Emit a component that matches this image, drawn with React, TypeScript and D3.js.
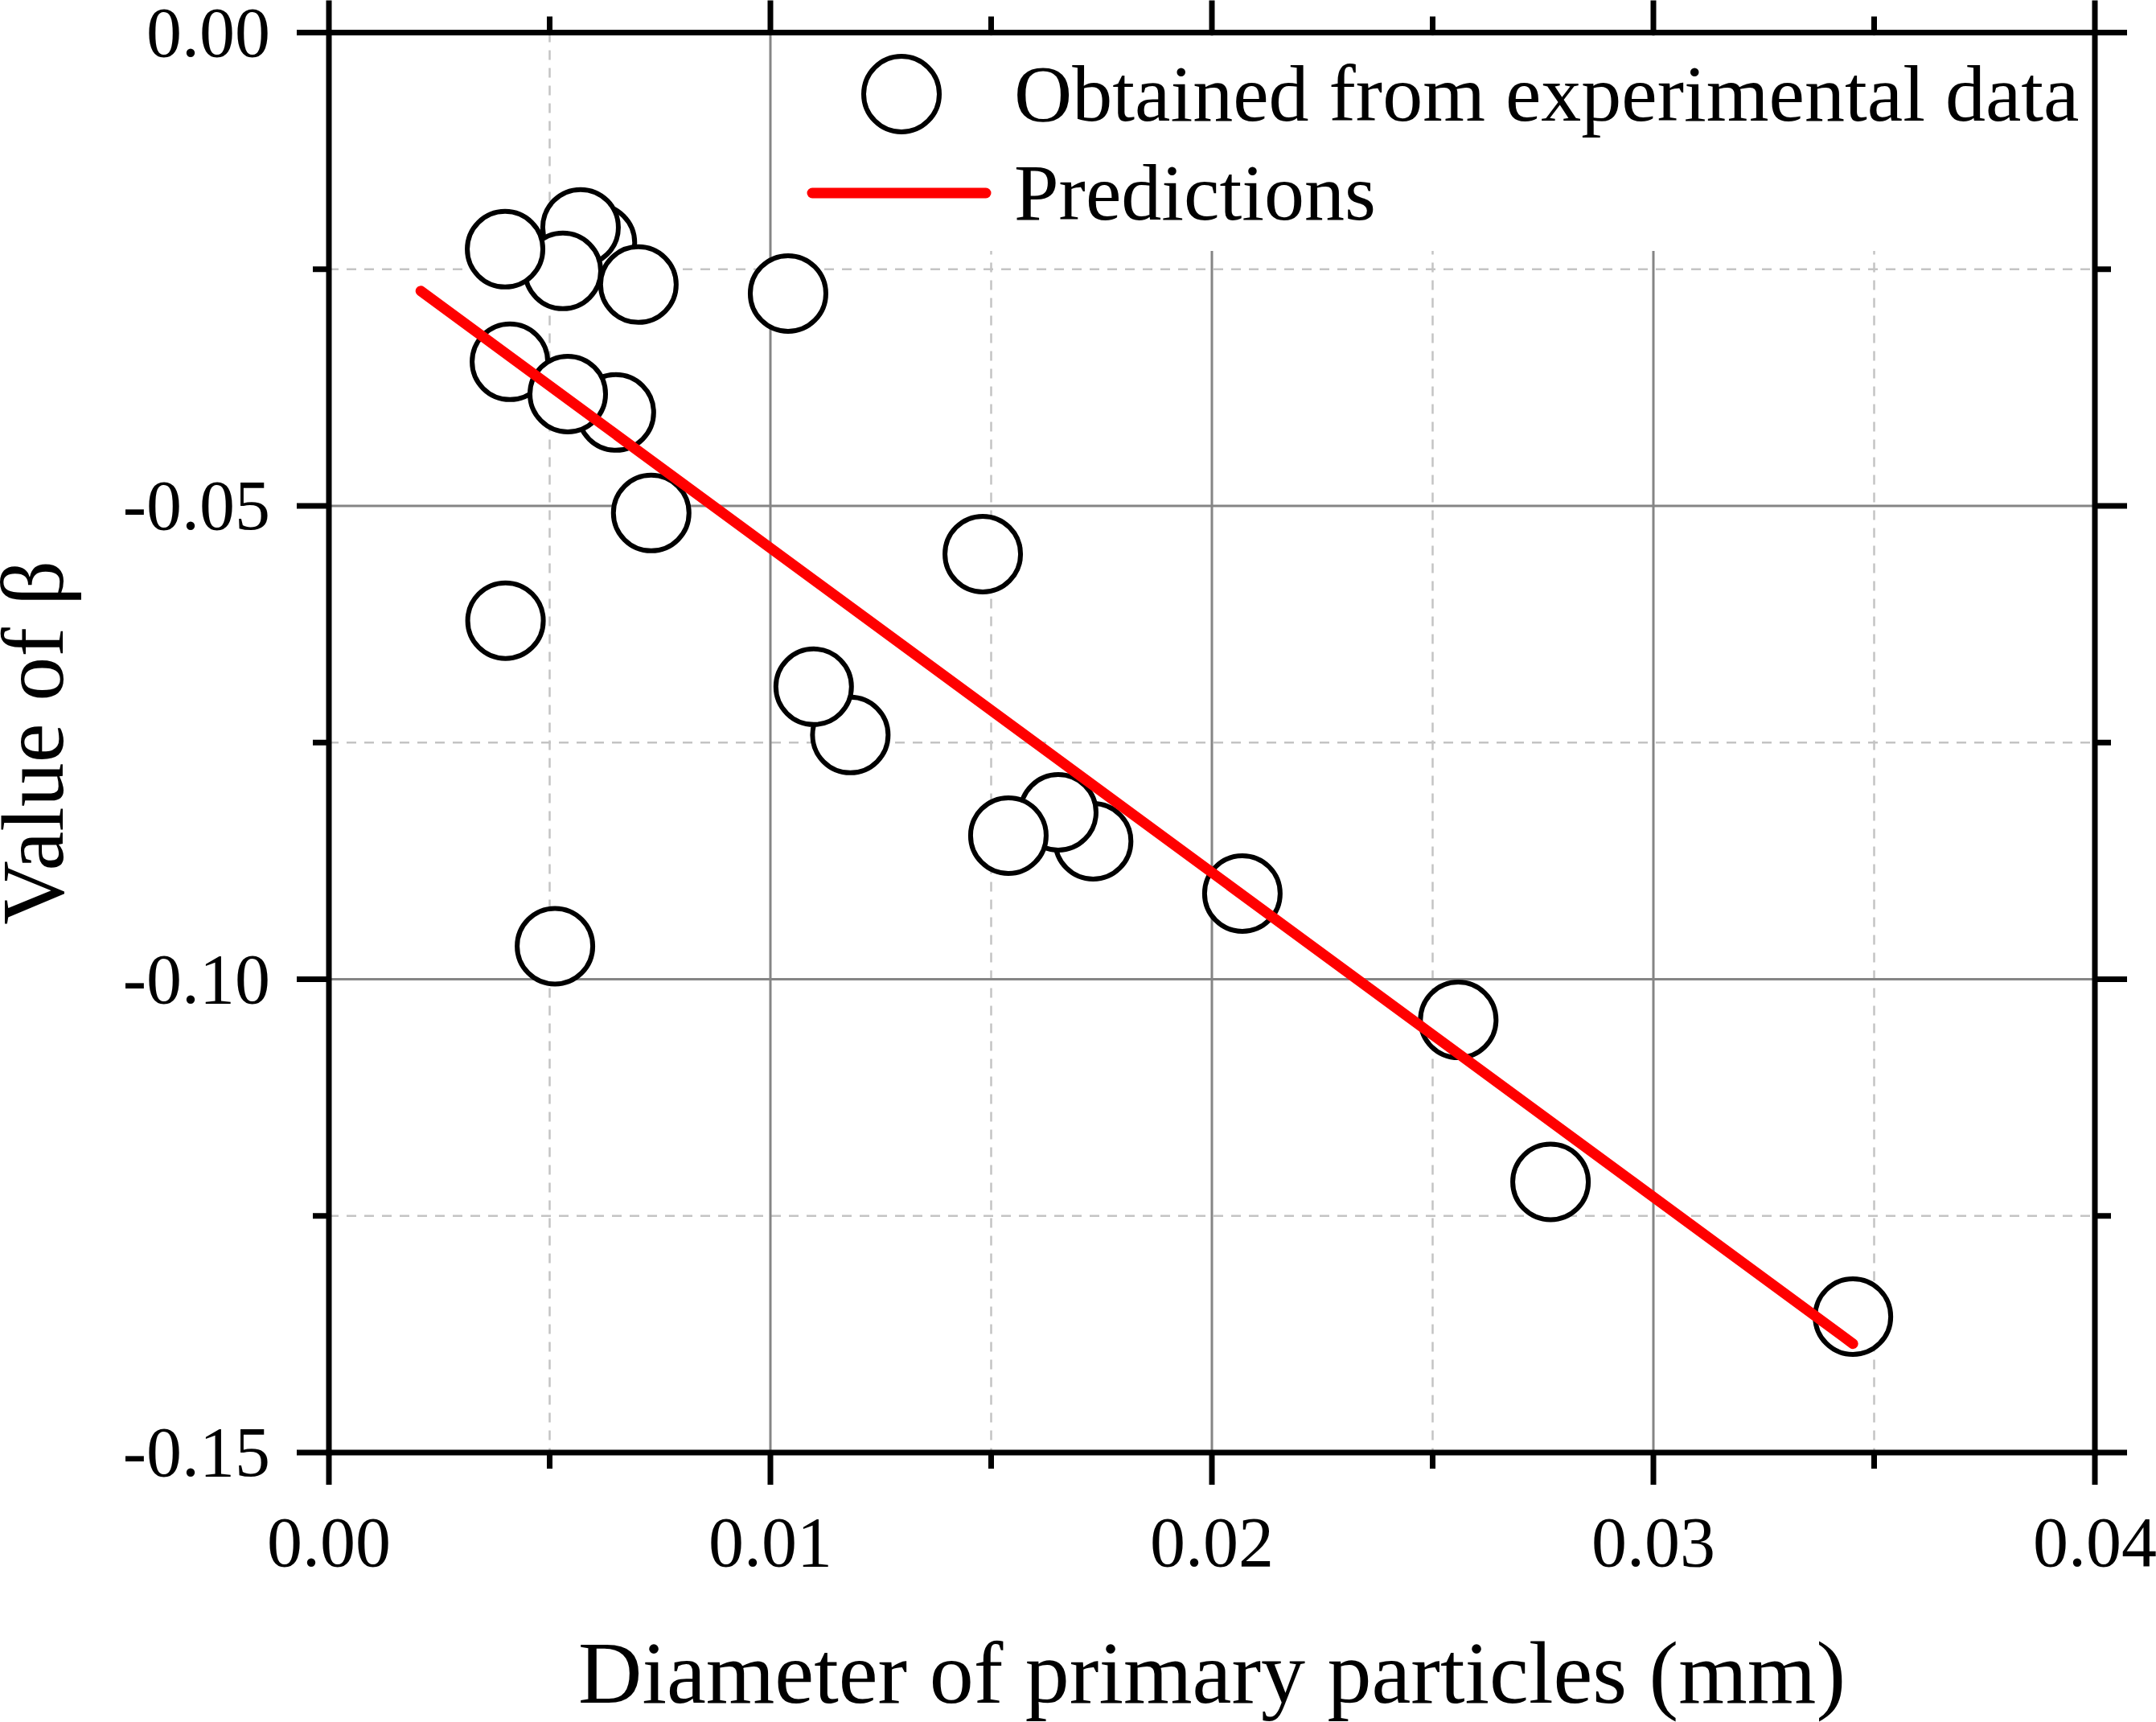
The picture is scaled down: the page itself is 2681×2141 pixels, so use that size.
import React from "react";
import * as d3 from "d3";

// ---- data ----
const diameterMM = [
  0.00607, 0.0057, 0.0053, 0.00399, 0.00701, 0.0104, 0.0065, 0.0041, 0.00541,
  0.0073, 0.004, 0.01481, 0.01181, 0.01098, 0.00512, 0.01731, 0.01652, 0.01539,
  0.02069, 0.02558, 0.02767, 0.03452,
];
const betaValues = [
  -0.0222, -0.02058, -0.02518, -0.02288, -0.02662, -0.02756, -0.04013, -0.03478,
  -0.03818, -0.05075, -0.06212, -0.05509, -0.0742, -0.0691, -0.09651, -0.08543,
  -0.08237, -0.08483, -0.09095, -0.1043, -0.12141, -0.13564,
];
const predX = [0.00208, 0.03452];
const predY = [-0.0273, -0.1385];

const xMajorTicks = [0, 0.01, 0.02, 0.03, 0.04];
const xMinorTicks = [0.005, 0.015, 0.025, 0.035];
const yMajorTicks = [0, -0.05, -0.1, -0.15];
const yMinorTicks = [-0.025, -0.075, -0.125];
const xTickLabels = ["0.00", "0.01", "0.02", "0.03", "0.04"];
const yTickLabels = ["0.00", "-0.05", "-0.10", "-0.15"];

const seriesNames = ["Obtained from experimental data", "Predictions"];
const xTitle = "Diameter of primary particles (mm)";
const yTitle = "Value of β";

const W = 2681;
const H = 2141;
const L = 409;
const R = 2605;
const T = 40.5;
const B = 1806;
const FONT = "'Liberation Serif', 'Times New Roman', serif";

export default function App() {
  const x = d3.scaleLinear().domain([0, 0.04]).range([L, R]);
  const y = d3.scaleLinear().domain([0, -0.15]).range([T, B]);
  const line = d3
    .line<number>()
    .x((_, i) => x(predX[i]))
    .y((d) => y(d));

  const MAJ = 40;
  const MIN = 20;
  const AX = 7;

  return (
    <svg
      width={W}
      height={H}
      viewBox={`0 0 ${W} ${H}`}
      style={{ position: "absolute", left: 0, top: 0, background: "#fff" }}
    >
      <rect x={0} y={0} width={W} height={H} fill="#fff" />
      {/* minor grid */}
      <g stroke="#c4c4c4" strokeWidth={2.5} strokeDasharray="12,10">
        {xMinorTicks.map((t) => (
          <line key={"gx" + t} x1={x(t)} x2={x(t)} y1={T} y2={B} />
        ))}
        {yMinorTicks.map((t) => (
          <line key={"gy" + t} x1={L} x2={R} y1={y(t)} y2={y(t)} />
        ))}
      </g>
      {/* major grid */}
      <g stroke="#858585" strokeWidth={3}>
        {xMajorTicks.slice(1, -1).map((t) => (
          <line key={"Gx" + t} x1={x(t)} x2={x(t)} y1={T} y2={B} />
        ))}
        {yMajorTicks.slice(1, -1).map((t) => (
          <line key={"Gy" + t} x1={L} x2={R} y1={y(t)} y2={y(t)} />
        ))}
      </g>
      {/* legend background */}
      <rect x={975} y={T + 4} width={R - 975 - 4} height={312 - T - 4} fill="#fff" />

      {/* markers */}
      <g fill="#fff" stroke="#000" strokeWidth={6}>
        {diameterMM.map((d, i) => (
          <circle key={"p" + i} cx={x(d)} cy={y(betaValues[i])} r={47} />
        ))}
      </g>
      {/* prediction line */}
      <path
        d={line(predY) || ""}
        fill="none"
        stroke="#ff0000"
        strokeWidth={13}
        strokeLinecap="round"
      />

      {/* axes frame */}
      <g stroke="#000" strokeWidth={AX} strokeLinecap="square">
        <line x1={L} x2={R} y1={T} y2={T} />
        <line x1={L} x2={R} y1={B} y2={B} />
        <line x1={L} x2={L} y1={T} y2={B} />
        <line x1={R} x2={R} y1={T} y2={B} />
      </g>
      {/* ticks */}
      <g stroke="#000" strokeWidth={AX}>
        {xMajorTicks.map((t) => (
          <g key={"tx" + t}>
            <line x1={x(t)} x2={x(t)} y1={B} y2={B + MAJ} />
            <line x1={x(t)} x2={x(t)} y1={T} y2={T - MAJ} />
          </g>
        ))}
        {xMinorTicks.map((t) => (
          <g key={"tmx" + t}>
            <line x1={x(t)} x2={x(t)} y1={B} y2={B + MIN} />
            <line x1={x(t)} x2={x(t)} y1={T} y2={T - MIN} />
          </g>
        ))}
        {yMajorTicks.map((t) => (
          <g key={"ty" + t}>
            <line x1={L} x2={L - MAJ} y1={y(t)} y2={y(t)} />
            <line x1={R} x2={R + MAJ} y1={y(t)} y2={y(t)} />
          </g>
        ))}
        {yMinorTicks.map((t) => (
          <g key={"tmy" + t}>
            <line x1={L} x2={L - MIN} y1={y(t)} y2={y(t)} />
            <line x1={R} x2={R + MIN} y1={y(t)} y2={y(t)} />
          </g>
        ))}
      </g>

      {/* tick labels */}
      <g fontFamily={FONT} fontSize={88} fill="#000">
        {xMajorTicks.map((t, i) => (
          <text key={"lx" + t} x={x(t)} y={1947} textAnchor="middle">
            {xTickLabels[i]}
          </text>
        ))}
        {yMajorTicks.map((t, i) => (
          <text key={"ly" + t} x={336} y={y(t) + 29} textAnchor="end">
            {yTickLabels[i]}
          </text>
        ))}
      </g>

      {/* axis titles */}
      <text
        x={(L + R) / 2}
        y={2117}
        textAnchor="middle"
        fontFamily={FONT}
        fontSize={110}
        fill="#000"
      >
        {xTitle}
      </text>
      <text
        transform={`translate(78, ${(T + B) / 2}) rotate(-90)`}
        textAnchor="middle"
        fontFamily={FONT}
        fontSize={110}
        fill="#000"
      >
        {yTitle}
      </text>

      {/* legend */}
      <circle cx={1121} cy={117} r={47} fill="#fff" stroke="#000" strokeWidth={6} />
      <line x1={1010} x2={1226} y1={240} y2={240} stroke="#ff0000" strokeWidth={13} strokeLinecap="round" />
      <g fontFamily={FONT} fontSize={100} fill="#000">
        <text x={1261} y={150}>{seriesNames[0]}</text>
        <text x={1261} y={273}>{seriesNames[1]}</text>
      </g>
    </svg>
  );
}
